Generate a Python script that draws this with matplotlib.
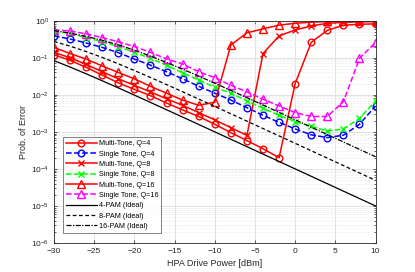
import matplotlib
matplotlib.use("Agg")
import matplotlib.pyplot as plt
from matplotlib.ticker import LogLocator, NullFormatter

plt.rcParams['font.family'] = ['Liberation Sans', 'DejaVu Sans']
plt.rcParams['mathtext.fontset'] = 'custom'
plt.rcParams['mathtext.rm'] = 'Liberation Sans'
plt.rcParams['mathtext.it'] = 'Liberation Sans:italic'

power_dbm = [-30, -28, -26, -24, -22, -20, -18, -16, -14, -12, -10,
             -8, -6, -4, -2, 0, 2, 4, 6, 8, 10]

mt_q4 = [0.12, 0.085, 0.055, 0.034, 0.021, 0.014, 0.0095, 0.006, 0.0039, 0.0026,
         0.0016, 9.5e-4, 5.8e-4, 3.5e-4, 2.0e-4, 0.02, 0.26, 0.55, 0.75, 0.8, 0.82]
st_q4 = [0.39, 0.32, 0.25, 0.19, 0.137, 0.092, 0.063, 0.042, 0.027, 0.017,
         0.011, 0.0072, 0.0045, 0.0028, 0.0018, 0.0012, 8.3e-4, 7.0e-4, 8.1e-4, 0.0016, 0.005]
mt_q8 = [0.14, 0.1, 0.066, 0.042, 0.027, 0.018, 0.012, 0.0078, 0.0052, 0.0033,
         0.0021, 0.0013, 8.0e-4, 0.13, 0.39, 0.56, 0.72, 0.85, 0.9, 0.93, 0.94]
st_q8 = [0.5, 0.46, 0.35, 0.27, 0.2, 0.14, 0.096, 0.063, 0.039, 0.025,
         0.016, 0.011, 0.0069, 0.0043, 0.0028, 0.0019, 0.0014, 0.00105, 0.0012, 0.0023, 0.0068]
mt_q16 = [0.19, 0.13, 0.092, 0.06, 0.04, 0.027, 0.017, 0.011, 0.0072, 0.0052,
          0.0063, 0.22, 0.47, 0.6, 0.76, 0.85, 0.91, 0.95, 0.97, 0.97, 0.97]
st_q16 = [0.56, 0.53, 0.44, 0.35, 0.27, 0.2, 0.14, 0.093, 0.068, 0.042,
          0.029, 0.018, 0.012, 0.0076, 0.005, 0.0033, 0.0026, 0.0026, 0.0065, 0.096, 0.26]
pam4_ideal = [0.0836, 0.0561, 0.0369, 0.0239, 0.01537, 0.009805, 0.00623, 0.003949, 0.002499, 0.00158,
              0.000998, 0.000631, 0.000398, 0.000251, 0.0001585, 0.0001, 6.31e-5, 3.98e-5, 2.51e-5, 1.585e-5, 1.0e-5]
pam8_ideal = [0.2741, 0.2052, 0.1473, 0.1020, 0.06864, 0.04524, 0.02937, 0.01887, 0.01206, 0.007665,
              0.004859, 0.003075, 0.001944, 0.001228, 0.0007756, 0.00049, 0.000309, 0.000195, 0.0001231, 7.77e-5, 4.9e-5]
pam16_ideal = [0.539, 0.4603, 0.3777, 0.2964, 0.2223, 0.1598, 0.1108, 0.07463, 0.04921, 0.03197,
               0.02056, 0.01313, 0.008347, 0.005292, 0.00335, 0.002118, 0.001338, 0.0008448, 0.0005333, 0.0003368, 0.0002125]

labels = ['Multi-Tone, Q=4', 'Single Tone, Q=4', 'Multi-Tone, Q=8', 'Single Tone, Q=8',
          'Multi-Tone, Q=16', 'Single Tone, Q=16', '4-PAM (Ideal)', '8-PAM (Ideal)', '16-PAM (Ideal)']

fig = plt.figure(figsize=(4.15, 2.72), dpi=100)
ax = fig.add_axes([0.130, 0.1066, 0.775, 0.8174])

lw = 1.1
ms = 4.8
ax.plot(power_dbm, mt_q4, '-', color='#ff0000', marker='o', mfc='none', ms=ms, lw=lw, mew=1.0, label=labels[0])
ax.plot(power_dbm, st_q4, '--', color='#0000ff', marker='o', mfc='none', ms=ms, lw=lw, mew=1.0, label=labels[1])
ax.plot(power_dbm, mt_q8, '-', color='#ff0000', marker='x', ms=ms - 0.8, lw=lw, mew=1.0, label=labels[2])
ax.plot(power_dbm, st_q8, '--', color='#00ff00', marker='x', ms=ms - 0.8, lw=lw, mew=1.0, label=labels[3])
ax.plot(power_dbm, mt_q16, '-', color='#ff0000', marker='^', mfc='none', ms=ms + 0.6, lw=lw, mew=1.0, label=labels[4])
ax.plot(power_dbm, st_q16, '--', color='#ff00ff', marker='^', mfc='none', ms=ms + 0.6, lw=lw, mew=1.0, label=labels[5])
ax.plot(power_dbm, pam4_ideal, '-', color='black', lw=0.9, label=labels[6])
ax.plot(power_dbm, pam8_ideal, '--', color='black', lw=0.9, dashes=(3, 2), label=labels[7])
ax.plot(power_dbm, pam16_ideal, '-.', color='black', lw=0.9, dashes=(4, 1.2, 1, 1.2), label=labels[8])

ax.set_yscale('log')
ax.set_xlim(-30, 10)
ax.set_ylim(1e-6, 1)
ax.set_xticks([-30, -25, -20, -15, -10, -5, 0, 5, 10])
ax.yaxis.set_major_locator(LogLocator(base=10, numticks=10))
ax.yaxis.set_minor_locator(LogLocator(base=10, subs=range(2, 10), numticks=20))
ax.yaxis.set_minor_formatter(NullFormatter())

ax.grid(True, which='major', color='#dcdcdc', lw=0.6)
ax.grid(True, which='minor', axis='y', color='#ececec', lw=0.5, ls='--')
ax.set_axisbelow(True)
ax.tick_params(direction='in', which='both', top=True, right=True, labelsize=6, colors='#262626',
               length=2.5, width=0.5)
ax.tick_params(which='minor', length=1.5)
for s in ax.spines.values():
    s.set_color('#262626')
    s.set_linewidth(0.6)

ax.set_xlabel('HPA Drive Power [dBm]', fontsize=6.5, color='#262626', labelpad=3)
ax.set_ylabel('Prob. of Error', fontsize=6.5, color='#262626', labelpad=2)

leg = ax.legend(loc='lower left', fontsize=5.2, handlelength=4.2, handletextpad=0.3,
                labelspacing=0.45, borderpad=0.4, frameon=True, fancybox=False,
                bbox_to_anchor=(0.018, 0.03))
leg.get_frame().set_edgecolor('#262626')
leg.get_frame().set_linewidth(0.5)

fig.savefig('out.png', dpi=100)
